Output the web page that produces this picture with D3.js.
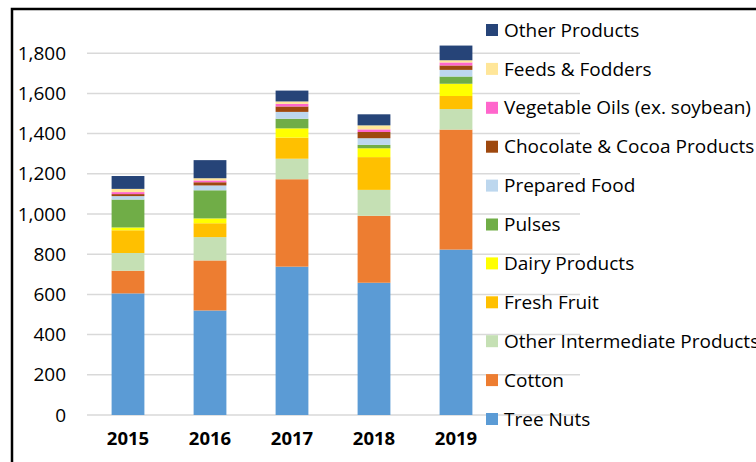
<!DOCTYPE html>
<html>
<head>
<meta charset="utf-8">
<script src="https://cdn.jsdelivr.net/npm/d3@7"></script>
<style>
  body { margin: 0; background: #fff; }
  svg { display: block; font-family: "Open Sans", "Noto Sans", sans-serif; }
</style>
</head>
<body>
<div id="chart"></div>
<script>
const years = ["2015", "2016", "2017", "2018", "2019"];
const seriesNames = ["Tree Nuts", "Cotton", "Other Intermediate Products", "Fresh Fruit",
  "Dairy Products", "Pulses", "Prepared Food", "Chocolate & Cocoa Products",
  "Vegetable Oils (ex. soybean)", "Feeds & Fodders", "Other Products"];
const seriesColors = ["#5b9bd5", "#ed7d31", "#c5e0b4", "#ffc000", "#ffff00", "#70ad47",
  "#bdd7ee", "#9e480e", "#ff66cc", "#ffe699", "#264478"];

const treeNuts = [605, 520, 738, 658, 823];
const cotton = [113, 249, 435, 333, 597];
const otherIntermediate = [88, 116, 102, 129, 102];
const freshFruit = [113, 69, 105, 163, 65];
const dairy = [14, 24, 46, 44, 61];
const pulses = [139, 140, 48, 17, 36];
const preparedFood = [17, 24, 34, 33, 33];
const chocolate = [10, 16, 27, 31, 22];
const vegOils = [10, 9, 13, 13, 15];
const feeds = [16, 11, 12, 20, 11];
const otherProducts = [64, 90, 54, 55, 73];

const yTicks = [0, 200, 400, 600, 800, 1000, 1200, 1400, 1600, 1800];

const seriesValues = [treeNuts, cotton, otherIntermediate, freshFruit, dairy, pulses,
  preparedFood, chocolate, vegOils, feeds, otherProducts];

const rows = years.map((y, i) => {
  const r = { year: y };
  seriesNames.forEach((s, j) => { r[s] = seriesValues[j][i]; });
  return r;
});

const width = 756, height = 462;
const svg = d3.select("#chart").append("svg")
  .attr("width", width)
  .attr("height", height);

// outer frame
svg.append("rect")
  .attr("x", 12).attr("y", 9)
  .attr("width", 800).attr("height", 500)
  .attr("fill", "none")
  .attr("stroke", "#000")
  .attr("stroke-width", 2.5);

const xScale = d3.scaleBand()
  .domain(years)
  .range([87, 497])
  .paddingInner(0.6)
  .paddingOuter(0.3);

const yScale = d3.scaleLinear()
  .domain([0, 2000])
  .range([415, 13]);

const color = d3.scaleOrdinal().domain(seriesNames).range(seriesColors);

// gridlines
svg.append("g")
  .selectAll("line")
  .data(yTicks)
  .enter().append("line")
  .attr("x1", 87).attr("x2", 580)
  .attr("y1", d => yScale(d)).attr("y2", d => yScale(d))
  .style("stroke", "#d9d9d9")
  .style("stroke-width", 1.5);

// y axis labels
const yAxis = svg.append("g")
  .attr("transform", "translate(66,0)")
  .call(d3.axisLeft(yScale).tickValues(yTicks).tickSize(0).tickPadding(0).tickFormat(d3.format(",")));
yAxis.select(".domain").remove();
yAxis.selectAll("text")
  .style("font-size", "19px")
  .style("font-family", "'Open Sans', sans-serif")
  .attr("fill", "#000");

// stacked bars
const stacked = d3.stack().keys(seriesNames)(rows);

svg.append("g")
  .selectAll("g")
  .data(stacked)
  .enter().append("g")
  .attr("fill", d => color(d.key))
  .selectAll("rect")
  .data(d => d)
  .enter().append("rect")
  .attr("x", d => xScale(d.data.year))
  .attr("width", xScale.bandwidth())
  .attr("y", d => yScale(d[1]))
  .attr("height", d => yScale(d[0]) - yScale(d[1]));

// x axis labels
const xAxis = svg.append("g")
  .attr("transform", "translate(0,432)")
  .call(d3.axisBottom(xScale).tickSize(0).tickPadding(0));
xAxis.select(".domain").remove();
xAxis.selectAll("text")
  .style("font-size", "18.5px")
  .style("font-weight", "bold")
  .style("font-family", "'Open Sans', sans-serif")
  .attr("fill", "#000");

// legend (top to bottom in reverse stacking order)
const legendNames = seriesNames.slice().reverse();
const legend = svg.append("g")
  .selectAll("g")
  .data(legendNames)
  .enter().append("g")
  .attr("transform", (d, i) => "translate(486," + (30 + i * 38.9) + ")");

legend.append("rect")
  .attr("x", 0).attr("y", -6)
  .attr("width", 12).attr("height", 12)
  .attr("fill", d => color(d));

legend.append("text")
  .attr("x", 18)
  .attr("dy", "0.35em")
  .style("font-size", "19px")
  .style("font-family", "'Open Sans', sans-serif")
  .attr("fill", "#000")
  .text(d => d);
</script>
</body>
</html>
